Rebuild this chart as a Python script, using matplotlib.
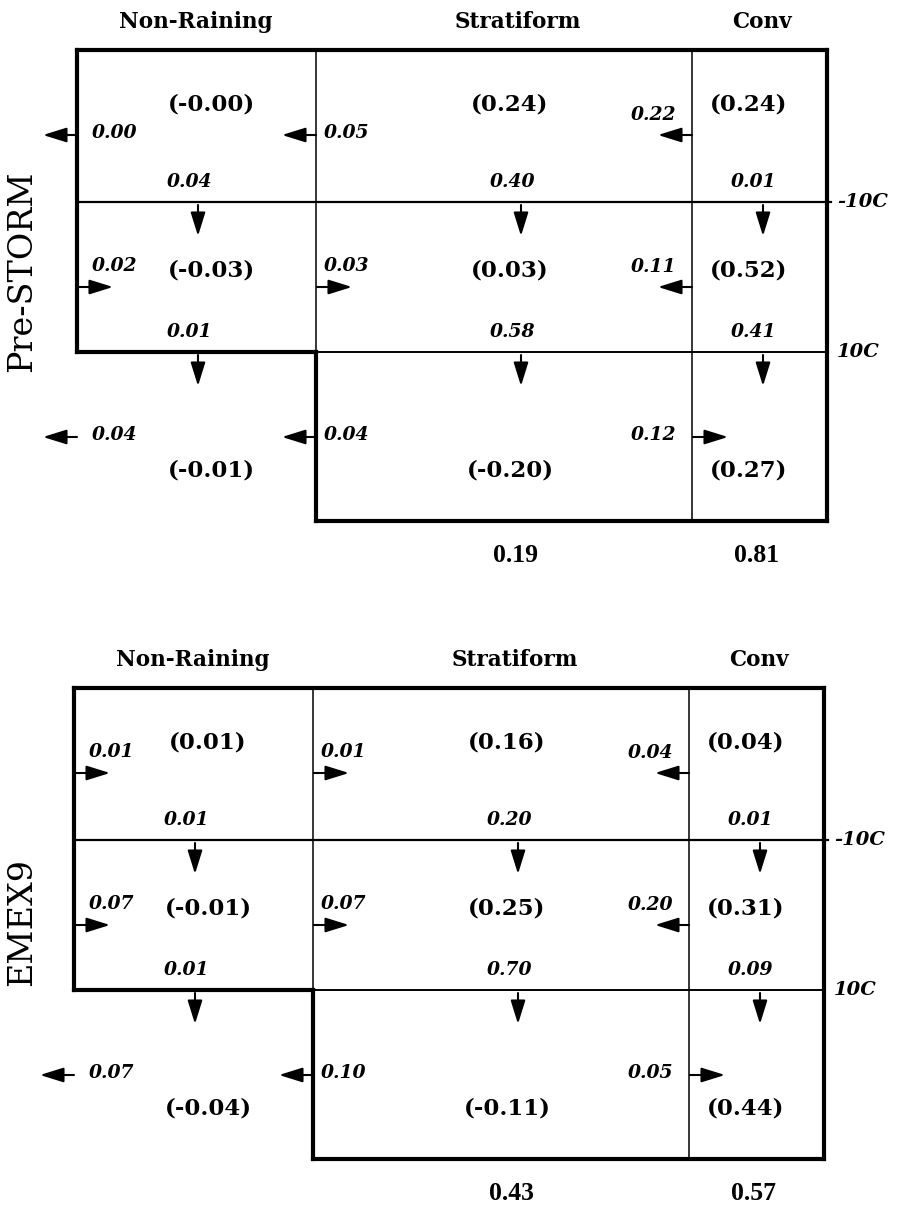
import matplotlib.pyplot as plt

# Column / row labels
columns = ['Non-Raining', 'Stratiform', 'Conv']
panels = ['Pre-STORM', 'EMEX9']
isotherms = ['-10C', '10C']

# Pre-STORM: storage terms (in parentheses), rows top -> bottom
prestorm_storage = [[-0.00, 0.24, 0.24], [-0.03, 0.03, 0.52], [-0.01, -0.20, 0.27]]
# downward fluxes across -10C and 10C
prestorm_down = [[0.04, 0.40, 0.01], [0.01, 0.58, 0.41]]
# sideways fluxes at outer edge, NR|Strat and Strat|Conv boundaries
prestorm_side = [[0.00, 0.05, 0.22], [0.02, 0.03, 0.11], [0.04, 0.04, 0.12]]
prestorm_dir = [['L', 'L', 'L'], ['R', 'R', 'L'], ['L', 'L', 'R']]
prestorm_total = [0.19, 0.81]

# EMEX9
emex_storage = [[0.01, 0.16, 0.04], [-0.01, 0.25, 0.31], [-0.04, -0.11, 0.44]]
emex_down = [[0.01, 0.20, 0.01], [0.01, 0.70, 0.09]]
emex_side = [[0.01, 0.01, 0.04], [0.07, 0.07, 0.20], [0.07, 0.10, 0.05]]
emex_dir = [['R', 'R', 'L'], ['R', 'R', 'L'], ['L', 'L', 'R']]
emex_total = [0.43, 0.57]

SERIF = 'DejaVu Serif'

fig = plt.figure(figsize=(9.17, 12.10), dpi=100)
ax = fig.add_axes([0, 0, 1, 1])
ax.set_xlim(0, 917)
ax.set_ylim(1210, 0)
ax.axis('off')


def seg(xs, ys, lw):
    ax.plot(xs, ys, color='black', lw=lw, solid_capstyle='projecting')


def arrow(x0, y0, x1, y1):
    ax.annotate('', xy=(x1, y1), xytext=(x0, y0),
                arrowprops=dict(arrowstyle='-|>,head_length=0.9,head_width=0.28',
                                lw=1.5, color='black', shrinkA=0, shrinkB=0,
                                mutation_scale=16))


def draw_panel(x0, y0, name, name_y, storage, down, side, dirs, total):
    # geometry (relative to top-left corner of the box)
    xb = [0, 239, 615]        # boundaries: outer left, NR|S, S|C
    xr = 750                  # right edge
    yl = [152, 302]           # -10C and 10C lines
    yb = 471                  # bottom of lower box
    col_val = [134, 433, 672]
    col_lab = [113, 436, 677]
    col_arr = [121, 444, 686]
    row_val = [54, 221, 421]
    row_arr = [85, 237, 387]

    thick, mid, thin = 3.0, 1.6, 1.1
    X = lambda v: x0 + v
    Y = lambda v: y0 + v

    # outer frame
    seg([X(0), X(xr)], [Y(0), Y(0)], thick)
    seg([X(xr), X(xr)], [Y(0), Y(yb)], thick)
    seg([X(0), X(0)], [Y(0), Y(yl[1])], thick)
    seg([X(0), X(xb[1])], [Y(yl[1]), Y(yl[1])], thick)
    seg([X(xb[1]), X(xb[1])], [Y(yl[1]), Y(yb)], thick)
    seg([X(xb[1]), X(xr)], [Y(yb), Y(yb)], thick)
    # inner lines
    seg([X(0), X(xr + 4)], [Y(yl[0]), Y(yl[0])], mid)
    seg([X(xb[1]), X(xr)], [Y(yl[1]), Y(yl[1])], thin + 0.3)
    seg([X(xb[1]), X(xb[1])], [Y(0), Y(yl[1])], thin)
    seg([X(xb[2]), X(xb[2])], [Y(0), Y(yb)], thin)

    # headers
    for c, cx in zip(columns, [119, 441, 685]):
        ax.text(X(cx), Y(-22), c, ha='center', va='baseline',
                fontsize=15.5, fontweight='bold', family=SERIF)
    ax.text(22, name_y, name, rotation=90, ha='center', va='center',
            fontsize=24, family=SERIF)
    for lab, ly in zip(isotherms, yl):
        ax.text(X(xr + 10), Y(ly), lab, ha='left', va='center',
                fontsize=14, fontweight='bold', style='italic', family=SERIF)

    # storage values
    for r in range(3):
        for c in range(3):
            ax.text(X(col_val[c]), Y(row_val[r]), f'({storage[r][c]:.2f})',
                    ha='center', va='center', fontsize=16.5, fontweight='bold',
                    family=SERIF)

    # downward fluxes
    for r in range(2):
        for c in range(3):
            ax.text(X(col_lab[c]), Y(yl[r] - 20), f'{down[r][c]:.2f}',
                    ha='center', va='center', fontsize=13.5, fontweight='bold',
                    style='italic', family=SERIF)
            arrow(X(col_arr[c]), Y(yl[r] + 3), X(col_arr[c]), Y(yl[r] + 34))

    # sideways fluxes
    for r in range(3):
        for b in range(3):
            d = dirs[r][b]
            xa = X(xb[b])
            ya = Y(row_arr[r])
            if d == 'L':
                arrow(xa, ya, xa - 34, ya)
            else:
                arrow(xa + 1, ya, xa + 36, ya)
            txt = f'{side[r][b]:.2f}'
            if b < 2:
                lx = xa + (38 if b == 0 else 31)
                ly = ya - 21 if d == 'R' else ya - 2
            else:
                lx = xa - 38
                ly = ya - 20 if d == 'L' else ya - 2
            ax.text(lx, ly, txt, ha='center', va='center', fontsize=13.5,
                    fontweight='bold', style='italic', family=SERIF)

    # column totals
    for t, tx in zip(total, [438, 680]):
        ax.text(X(tx), Y(506), f'{t:.2f}', ha='center', va='center',
                fontsize=18.5, fontweight='bold', family='Liberation Serif')


draw_panel(77, 50, panels[0], 271, prestorm_storage, prestorm_down,
           prestorm_side, prestorm_dir, prestorm_total)
draw_panel(74, 688, panels[1], 922, emex_storage, emex_down,
           emex_side, emex_dir, emex_total)

fig.savefig('out.png', dpi=100, facecolor='white')
